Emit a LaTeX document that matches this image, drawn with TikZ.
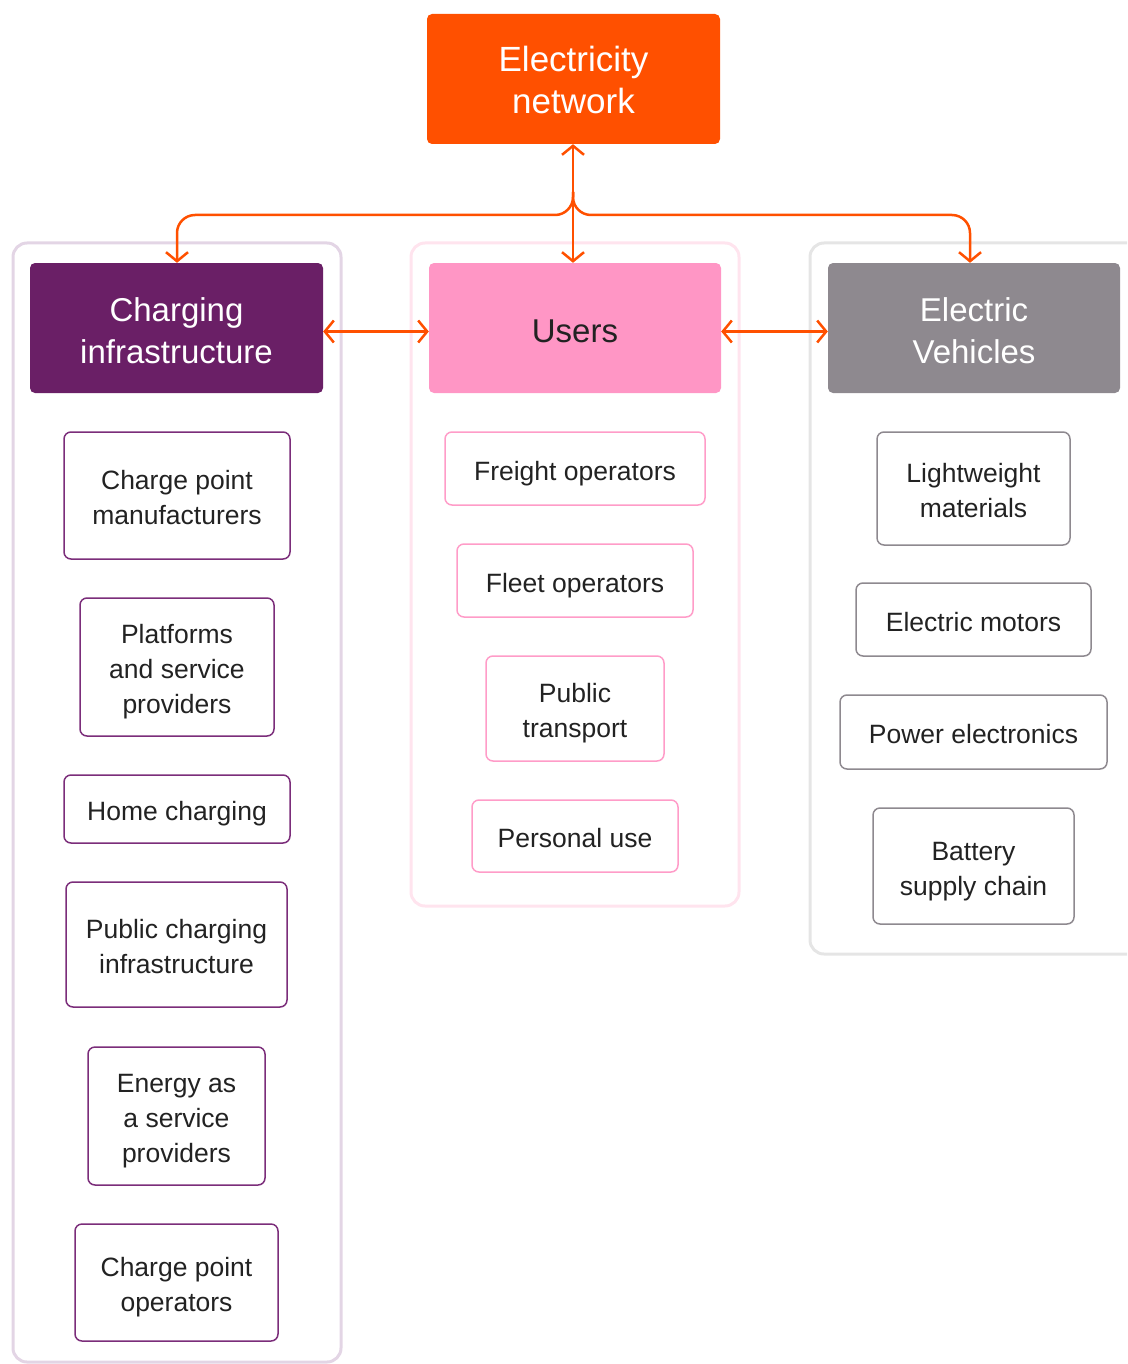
\documentclass[tikz,border=0pt]{standalone}
\usepackage{fontspec}
\setmainfont{Liberation Sans}
\usetikzlibrary{arrows.meta}
\definecolor{orng}{HTML}{FF5000}
\definecolor{purp}{HTML}{6A1F66}
\definecolor{pnk}{HTML}{FF96C5}
\definecolor{gry}{HTML}{8E898F}
\definecolor{contL}{HTML}{E3D5E5}
\definecolor{contM}{HTML}{FFE4EE}
\definecolor{contR}{HTML}{E5E5E5}
\definecolor{subL}{HTML}{7B2D7A}
\definecolor{subM}{HTML}{FF9CC8}
\definecolor{txt}{HTML}{222222}
% #1 = downward shift of the text inside its node
\newcommand\lbl[2]{\raisebox{0pt}[\dimexpr\height+#1*2\relax][\depth]{\begin{tabular}{@{}c@{}}#2\end{tabular}}}
\tikzset{
  cont/.style={draw=#1, line width=3pt, rounded corners=14pt},
  head/.style={fill=#1, rounded corners=5pt, inner sep=0pt,
    font=\fontsize{33}{42}\selectfont},
  subbox/.style={draw=#1, line width=1.5pt, rounded corners=7pt, inner sep=0pt,
    text=txt, font=\fontsize{26.5}{35}\selectfont},
  conn/.style={draw=orng, line width=2.5pt, {Straight Barb[length=9pt,width=22pt]}-{Straight Barb[length=9pt,width=22pt]}},
  conn1/.style={draw=orng, line width=2.5pt, -{Straight Barb[length=9pt,width=22pt]}, rounded corners=18pt},
}
\begin{document}
\begin{tikzpicture}[x=1pt,y=-1pt]
\useasboundingbox (0,0) rectangle (1127,1364);
\clip (0,0) rectangle (1127,1364);
% containers
\draw[cont=contL] (13,243) rectangle (341,1362);
\draw[cont=contM] (411,243) rectangle (739,906);
\draw[cont=contR] (810,243) rectangle (1160,954);
% top node
\node[head=orng, text=white, minimum width=293pt, minimum height=130pt, font=\fontsize{35}{42}\selectfont] (net) at (573.5,79) {\lbl{5pt}{Electricity\\network}};
% headers
\node[head=purp, text=white, minimum width=293pt, minimum height=130pt] (ci) at (176.5,328) {\lbl{6pt}{Charging\\infrastructure}};
\node[head=pnk, text=txt, minimum width=292pt, minimum height=130pt] (users) at (575,328) {\lbl{6pt}{Users}};
\node[head=gry, text=white, minimum width=292pt, minimum height=130pt] (ev) at (974,328) {\lbl{6pt}{Electric\\Vehicles}};
% left sub boxes
\node[subbox=subL, minimum width=226pt, minimum height=127pt] (l1) at (177,495.5) {\lbl{4.5pt}{Charge point\\manufacturers}};
\node[subbox=subL, minimum width=194pt, minimum height=138pt] (l2) at (177,667) {\lbl{4.5pt}{Platforms\\and service\\providers}};
\node[subbox=subL, minimum width=226pt, minimum height=68pt] (l3) at (177,809) {\lbl{4.5pt}{Home charging}};
\node[subbox=subL, minimum width=221pt, minimum height=125pt] (l4) at (176.5,944.5) {\lbl{4.5pt}{Public charging\\infrastructure}};
\node[subbox=subL, minimum width=177pt, minimum height=138pt] (l5) at (176.5,1116) {\lbl{4.5pt}{Energy as\\a service\\providers}};
\node[subbox=subL, minimum width=203pt, minimum height=117pt] (l6) at (176.5,1282.5) {\lbl{4.5pt}{Charge point\\operators}};
% middle sub boxes
\node[subbox=subM, minimum width=260pt, minimum height=73pt] (m1) at (575,468.5) {\lbl{4.5pt}{Freight operators}};
\node[subbox=subM, minimum width=236pt, minimum height=73pt] (m2) at (575,580.5) {\lbl{4.5pt}{Fleet operators}};
\node[subbox=subM, minimum width=178pt, minimum height=105pt] (m3) at (575,708.5) {\lbl{4.5pt}{Public\\transport}};
\node[subbox=subM, minimum width=206pt, minimum height=72pt] (m4) at (575,836) {\lbl{4.5pt}{Personal use}};
% right sub boxes
\node[subbox=gry, minimum width=193pt, minimum height=113pt] (r1) at (973.5,488.5) {\lbl{4.5pt}{Lightweight\\materials}};
\node[subbox=gry, minimum width=235pt, minimum height=73pt] (r2) at (973.5,619.5) {\lbl{4.5pt}{Electric motors}};
\node[subbox=gry, minimum width=267pt, minimum height=74pt] (r3) at (973.5,732) {\lbl{4.5pt}{Power electronics}};
\node[subbox=gry, minimum width=201pt, minimum height=116pt] (r4) at (973.5,866) {\lbl{4.5pt}{Battery\\supply chain}};
% connectors
\coordinate (jn) at (573,192);
\draw[conn] (net.south -| jn) -- (users.north -| jn);
\draw[conn1] (jn) -- (573,215) -- (177,215) -- (ci.north -| 177,0);
\draw[conn1] (jn) -- (573,215) -- (970,215) -- (ev.north -| 970,0);
\draw[conn] ([yshift=-3.5pt]ci.east) -- ([yshift=-3.5pt]users.west);
\draw[conn] ([yshift=-3.5pt]users.east) -- ([yshift=-3.5pt]ev.west);
\end{tikzpicture}
\end{document}
